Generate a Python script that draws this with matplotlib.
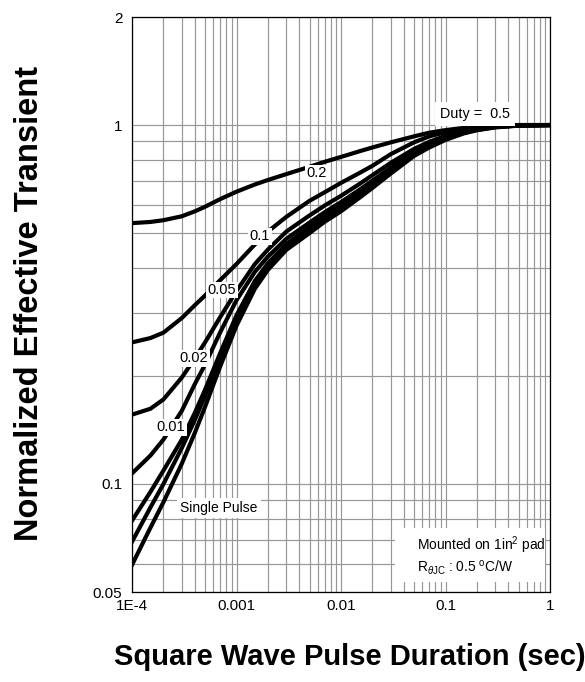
import numpy as np
import matplotlib
matplotlib.use("Agg")
import matplotlib.pyplot as plt
from matplotlib.ticker import FixedLocator, FixedFormatter, NullFormatter

plt.rcParams["font.family"] = ["Liberation Sans", "DejaVu Sans"]
plt.rcParams["mathtext.fontset"] = "custom"
plt.rcParams["mathtext.rm"] = "Liberation Sans"
plt.rcParams["mathtext.it"] = "Liberation Sans:italic"

# pulse duration (sec), shared by every duty curve
pulse_t = [1e-4, 1.5e-4, 2e-4, 3e-4, 4e-4, 5e-4, 7e-4, 1e-3, 1.5e-3, 2e-3,
           3e-3, 5e-3, 7e-3, 1e-2, 1.5e-2, 2e-2, 3e-2, 5e-2, 7e-2, 0.1,
           0.15, 0.2, 0.3, 0.5, 1.0]

# normalized effective transient thermal impedance per duty cycle
z_duty_50 = [0.533, 0.537, 0.543, 0.557, 0.575, 0.592, 0.622, 0.652, 0.683, 0.703,
             0.730, 0.765, 0.790, 0.815, 0.845, 0.866, 0.895, 0.930, 0.952, 0.968,
             0.982, 0.990, 0.996, 1.0, 1.0]
z_duty_20 = [0.248, 0.255, 0.264, 0.290, 0.315, 0.335, 0.370, 0.410, 0.465, 0.505,
             0.555, 0.615, 0.650, 0.690, 0.735, 0.770, 0.830, 0.895, 0.930, 0.955,
             0.975, 0.985, 0.995, 1.0, 1.0]
z_duty_10 = [0.156, 0.162, 0.172, 0.198, 0.224, 0.248, 0.292, 0.345, 0.410, 0.450,
             0.505, 0.560, 0.597, 0.635, 0.685, 0.725, 0.785, 0.858, 0.898, 0.933,
             0.963, 0.978, 0.991, 0.998, 1.0]
z_duty_05 = [0.107, 0.120, 0.133, 0.160, 0.190, 0.215, 0.265, 0.325, 0.390, 0.430,
             0.482, 0.535, 0.572, 0.610, 0.660, 0.700, 0.762, 0.845, 0.887, 0.926,
             0.959, 0.975, 0.989, 0.998, 1.0]
z_duty_02 = [0.079, 0.095, 0.109, 0.133, 0.158, 0.183, 0.232, 0.295, 0.368, 0.412,
             0.466, 0.520, 0.557, 0.595, 0.645, 0.686, 0.750, 0.835, 0.878, 0.919,
             0.954, 0.972, 0.988, 0.997, 1.0]
z_duty_01 = [0.069, 0.086, 0.100, 0.126, 0.151, 0.176, 0.225, 0.287, 0.360, 0.404,
             0.458, 0.510, 0.548, 0.585, 0.637, 0.678, 0.742, 0.828, 0.872, 0.914,
             0.951, 0.970, 0.987, 0.997, 1.0]
z_single = [0.0595, 0.0755, 0.089, 0.114, 0.139, 0.164, 0.213, 0.276, 0.350, 0.395,
            0.449, 0.500, 0.538, 0.575, 0.627, 0.668, 0.733, 0.820, 0.866, 0.909,
            0.948, 0.967, 0.985, 0.996, 1.0]

curves = [z_duty_50, z_duty_20, z_duty_10, z_duty_05, z_duty_02, z_duty_01, z_single]

x_major = [1e-4, 1e-3, 1e-2, 1e-1, 1.0]
x_major_labels = ["1E-4", "0.001", "0.01", "0.1", "1"]
y_major = [0.05, 0.1, 1.0, 2.0]
y_major_labels = ["0.05", "0.1", "1", "2"]

fig = plt.figure(figsize=(5.85, 6.82), dpi=100)
ax = fig.add_axes([132 / 585, 90 / 682, 418 / 585, 575 / 682])
ax.set_xscale("log")
ax.set_yscale("log")
ax.set_xlim(1e-4, 1.0)
ax.set_ylim(0.05, 2.0)

for z in curves:
    ax.plot(pulse_t, z, color="black", linewidth=3.0, solid_joinstyle="round", zorder=3)

# ticks and grid
x_minor = [m * d for d in [1e-4, 1e-3, 1e-2, 1e-1] for m in range(2, 10)]
y_minor = [m * 0.01 for m in range(6, 10)] + [m * 0.1 for m in range(2, 10)]
ax.xaxis.set_major_locator(FixedLocator(x_major))
ax.xaxis.set_major_formatter(FixedFormatter(x_major_labels))
ax.xaxis.set_minor_locator(FixedLocator(x_minor))
ax.xaxis.set_minor_formatter(NullFormatter())
ax.yaxis.set_major_locator(FixedLocator(y_major))
ax.yaxis.set_major_formatter(FixedFormatter(y_major_labels))
ax.yaxis.set_minor_locator(FixedLocator(y_minor))
ax.yaxis.set_minor_formatter(NullFormatter())
ax.tick_params(which="both", length=0, labelsize=11, colors="black")
ax.tick_params(axis="x", pad=5)
ax.tick_params(axis="y", pad=7)
ax.grid(True, which="both", color="#979797", linewidth=0.85, zorder=1)
ax.set_axisbelow(True)
for s in ax.spines.values():
    s.set_linewidth(0.9)
    s.set_zorder(5)

# curve labels
label_box = dict(facecolor="white", edgecolor="none", pad=1.0)
curve_labels = [("0.2", 5.83e-3, 0.735), ("0.1", 1.68e-3, 0.49),
                ("0.05", 7.26e-4, 0.347), ("0.02", 3.92e-4, 0.224),
                ("0.01", 2.36e-4, 0.144)]
for txt, tx, ty in curve_labels:
    ax.text(tx, ty, txt, fontsize=10.5, ha="center", va="center",
            bbox=label_box, zorder=6)

ax.text(6.8e-4, 0.0857, "Single Pulse", fontsize=10, ha="center", va="center",
        bbox=dict(facecolor="white", edgecolor="none", pad=2.5), zorder=6)
ax.text(0.1915, 1.072, "Duty =  0.5", fontsize=10.4, ha="center", va="center",
        bbox=dict(facecolor="white", edgecolor="none", pad=3.5), zorder=6)

# mounting note
ax.fill_between([0.033, 0.9], 0.0533, 0.0753, color="white", linewidth=0, zorder=4)
ax.text(0.0534, 0.0676, "Mounted on 1in$^{2}$ pad", fontsize=9.9, ha="left",
        va="center", zorder=6)
ax.text(0.0534, 0.0583, r"R$_{\theta \mathrm{JC}}$ : 0.5 $^{\mathrm{o}}$C/W", fontsize=9.9,
        ha="left", va="center", zorder=6)

fig.text(30 / 585, 1 - 303 / 682, "Normalized Effective Transient", rotation=90,
         ha="center", va="center", fontsize=23.5, fontweight="bold")
fig.text(350 / 585, 1 - 657 / 682, "Square Wave Pulse Duration (sec)",
         ha="center", va="center", fontsize=21, fontweight="bold")

fig.savefig("out.png", dpi=100, facecolor="white")
